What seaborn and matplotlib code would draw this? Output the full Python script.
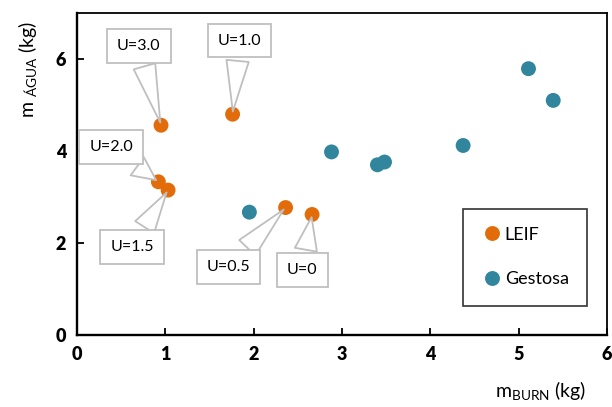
import matplotlib
matplotlib.use("Agg")
import matplotlib.pyplot as plt
import seaborn as sns
import pandas as pd

# LEIF series (one point per U value)
leif_u = ["U=3.0", "U=1.0", "U=2.0", "U=1.5", "U=0.5", "U=0"]
leif_burn = [0.95, 1.76, 0.92, 1.03, 2.36, 2.66]
leif_agua = [4.56, 4.80, 3.33, 3.15, 2.77, 2.62]

# Gestosa series
gest_burn = [1.95, 2.88, 3.40, 3.48, 4.37, 5.11, 5.39]
gest_agua = [2.67, 3.98, 3.70, 3.76, 4.12, 5.79, 5.10]

series_names = ["LEIF", "Gestosa"]
x_ticks = [0, 1, 2, 3, 4, 5, 6]
y_ticks = [0, 2, 4, 6]

df = pd.DataFrame({
    "burn": leif_burn + gest_burn,
    "agua": leif_agua + gest_agua,
    "serie": [series_names[0]] * len(leif_burn) + [series_names[1]] * len(gest_burn),
})

sns.set_style("ticks")
plt.rcParams["font.family"] = ["Lato", "DejaVu Sans"]
plt.rcParams["mathtext.fontset"] = "custom"
plt.rcParams["mathtext.rm"] = "Lato"
plt.rcParams["text.color"] = "black"
plt.rcParams["xtick.color"] = "black"
plt.rcParams["ytick.color"] = "black"
plt.rcParams["xtick.direction"] = "in"
plt.rcParams["ytick.direction"] = "in"

fig = plt.figure(figsize=(6.12, 4.07), dpi=100)
ax = fig.add_axes([0.126, 0.177, 0.866, 0.791])

palette = {"LEIF": "#E36C0A", "Gestosa": "#31859C"}
sns.scatterplot(data=df, x="burn", y="agua", hue="serie", palette=palette,
                s=115, edgecolor="none", ax=ax, legend=True, zorder=3)

# callout label offsets (points) from each LEIF marker to its box centre
label_offsets = {
    "U=3.0": (-16, 57), "U=1.0": (5, 53), "U=2.0": (-34, 25),
    "U=1.5": (-26, -41), "U=0.5": (-41, -43), "U=0": (-7, -40),
}
for lab, xv, yv in zip(leif_u, leif_burn, leif_agua):
    ax.annotate(lab, xy=(xv, yv), xytext=label_offsets[lab],
                textcoords="offset points", ha="center", va="center",
                fontsize=11.5, color="black", zorder=4,
                bbox=dict(boxstyle="square,pad=0.62", fc="white", ec="#BFBFBF", lw=1.3),
                arrowprops=dict(arrowstyle="wedge,tail_width=1.4,shrink_factor=0.5",
                                fc="white", ec="#BFBFBF", lw=1.3))

ax.set_xlim(0, 6)
ax.set_ylim(0, 7)
ax.set_xticks(x_ticks)
ax.set_yticks(y_ticks)
ax.tick_params(axis="both", length=5, width=1.3, labelsize=13, pad=8)
for t in ax.get_xticklabels() + ax.get_yticklabels():
    t.set_fontweight("heavy")

for side in ["left", "bottom"]:
    ax.spines[side].set_linewidth(1.7)
for side in ["top", "right"]:
    ax.spines[side].set_visible(True)
    ax.spines[side].set_linewidth(1.3)
for sp in ax.spines.values():
    sp.set_color("black")

ax.set_xlabel("")
ax.set_ylabel("")
fig.text(0.047, 0.83, r"m $_{\mathrm{ÁGUA}}$ (kg)", rotation=90, ha="center", va="center", fontsize=14)
fig.text(0.883, 0.038, r"m$_{\mathrm{BURN}}$ (kg)", ha="center", va="center", fontsize=14)

leg = ax.legend(loc="center", bbox_to_anchor=(0.845, 0.242), frameon=True, fancybox=False,
                fontsize=13, labelspacing=1.6, borderpad=1.0, handletextpad=0.1,
                markerscale=1.0, handlelength=1.2, title=None)
leg.get_frame().set_edgecolor("black")
leg.get_frame().set_linewidth(1.2)

fig.savefig("out.png", dpi=100)
